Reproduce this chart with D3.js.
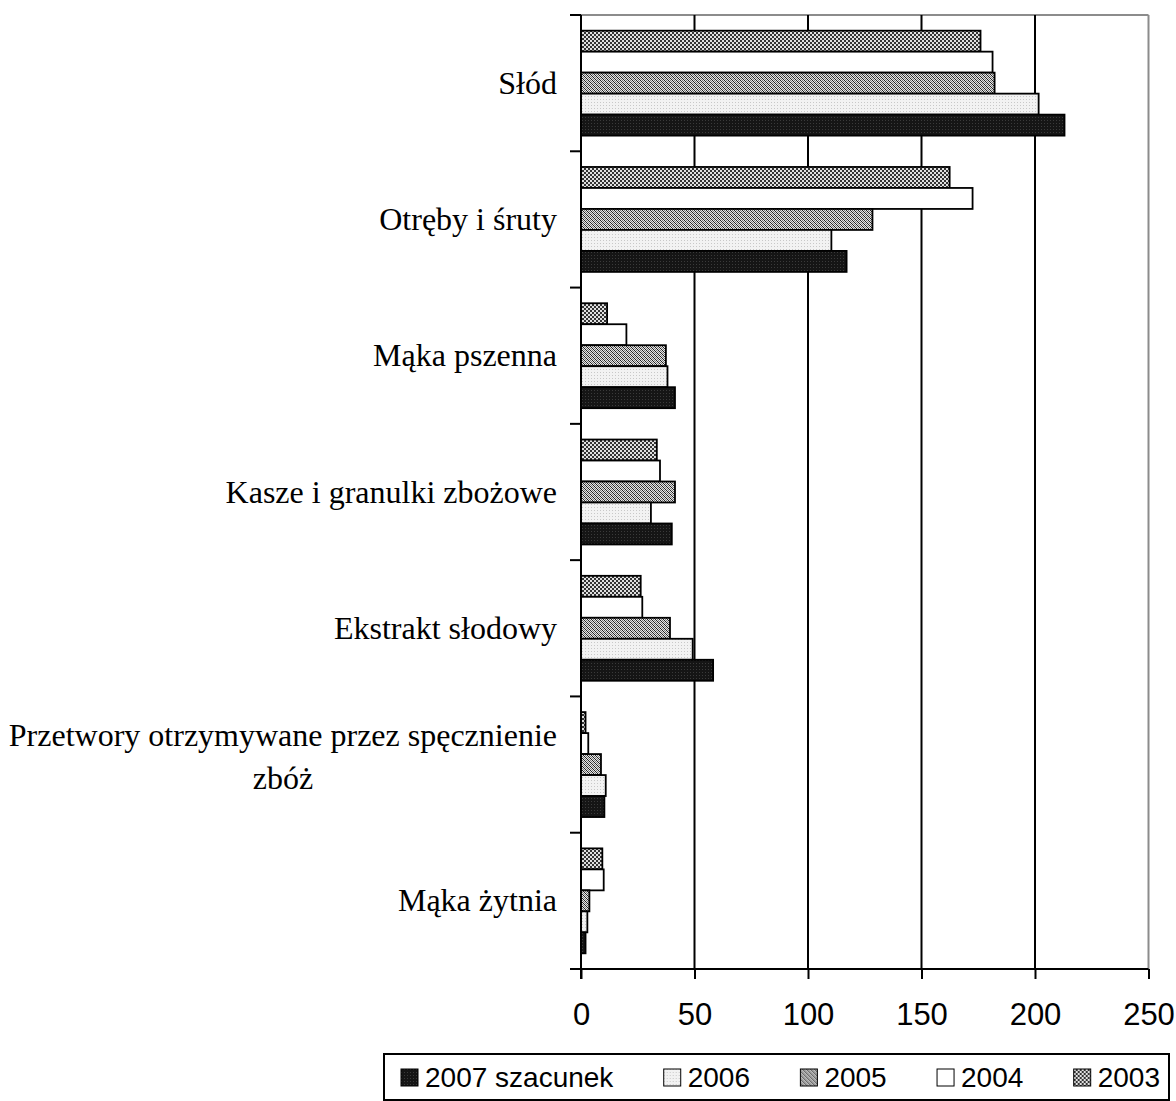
<!DOCTYPE html>
<html><head><meta charset="utf-8">
<script src="https://cdn.jsdelivr.net/npm/d3@7"></script>
<style>body{margin:0;background:#fff}svg{display:block}</style>
</head><body>
<svg id="c" width="1176" height="1101"></svg>
<script>
const categories = ["Słód","Otręby i śruty","Mąka pszenna","Kasze i granulki zbożowe","Ekstrakt słodowy","Przetwory otrzymywane przez spęcznienie\nzbóż","Mąka żytnia"];
const years = ["2003","2004","2005","2006","2007"];
const v2003 = [176,162.4,11.5,33.4,26.3,2,9.4];
const v2004 = [181.3,172.5,20,34.8,27,3.2,10];
const v2005 = [182.2,128.4,37.4,41.4,39.2,8.8,3.7];
const v2006 = [201.6,110.3,38.1,30.8,49.2,10.9,2.8];
const v2007 = [213,117,41.4,40,58.2,10.3,2];
const legendLabels = ["2007 szacunek","2006","2005","2004","2003"];
const legendYears = ["2007","2006","2005","2004","2003"];
const xTicks = [0,50,100,150,200,250];

const series = {"2003":v2003,"2004":v2004,"2005":v2005,"2006":v2006,"2007":v2007};

const svg = d3.select("#c");
const defs = svg.append("defs");
function pat(id, w, h, bg, cells){
  const p = defs.append("pattern").attr("id",id).attr("patternUnits","userSpaceOnUse").attr("width",w).attr("height",h);
  p.append("rect").attr("width",w).attr("height",h).attr("fill",bg);
  cells.forEach(c=>p.append("rect").attr("x",c[0]).attr("y",c[1]).attr("width",c[2]).attr("height",c[3]).attr("fill",c[4]));
}
pat("p2007",3,3,"#151515",[[0,0,1,1,"#3a3a3a"]]);
pat("p2006",3,3,"#f2f2f2",[[0,0,1,1,"#c8c8c8"]]);
pat("p2005",4,4,"#e6e6e6",[[0,0,1,1,"#222"],[1,1,1,1,"#222"],[2,2,1,1,"#222"],[3,3,1,1,"#222"],[2,0,1,1,"#777"],[3,1,1,1,"#777"],[0,2,1,1,"#777"],[1,3,1,1,"#777"]]);
pat("p2003",4,4,"#e0e0e0",[[0,0,2,2,"#333"],[2,2,2,2,"#333"]]);
const fills = {"2007":"url(#p2007)","2006":"url(#p2006)","2005":"url(#p2005)","2004":"#ffffff","2003":"url(#p2003)"};

const L = 581, R = 1148.5, T = 15, B = 969;
const x = d3.scaleLinear().domain([0,250]).range([L,R]);
const y0 = d3.scaleBand().domain(categories).range([T,B]).paddingInner(0.23).paddingOuter(0.115);
const y1 = d3.scaleBand().domain(years).range([0,y0.bandwidth()]);
const yb = d3.scaleBand().domain(categories).range([T,B]);

// plot border (gray top/right)
svg.append("line").attr("x1",L).attr("x2",R).attr("y1",T).attr("y2",T).attr("stroke","#8c8c8c").attr("stroke-width",2);
svg.append("line").attr("x1",R).attr("x2",R).attr("y1",T).attr("y2",B).attr("stroke","#8c8c8c").attr("stroke-width",2);

// gridlines
svg.append("g").selectAll("line").data(xTicks.filter(t=>t>0&&t<250)).join("line")
  .attr("x1",d=>x(d)).attr("x2",d=>x(d)).attr("y1",T).attr("y2",B)
  .attr("stroke","#000").attr("stroke-width",2);

// bars
const g = svg.append("g");
categories.forEach((c,i)=>{
  years.forEach(yr=>{
    g.append("rect")
      .attr("x",x(0)).attr("y",y0(c)+y1(yr))
      .attr("width",x(series[yr][i])-x(0)).attr("height",y1.bandwidth())
      .attr("fill",fills[yr]).attr("stroke","#000").attr("stroke-width",1.8);
  });
});

// y axis
svg.append("line").attr("x1",L).attr("x2",L).attr("y1",T).attr("y2",B+10).attr("stroke","#000").attr("stroke-width",2);
const bounds = categories.map(c=>yb(c)).concat([B]);
svg.append("g").selectAll("line").data(bounds).join("line")
  .attr("x1",L-11).attr("x2",L).attr("y1",d=>d).attr("y2",d=>d).attr("stroke","#000").attr("stroke-width",2);

// x axis
const xa = d3.axisBottom(x).tickValues(xTicks).tickSize(10).tickPadding(20);
const xg = svg.append("g").attr("transform",`translate(0,${B})`).call(xa);
xg.select(".domain").remove();
xg.selectAll(".tick line").attr("stroke","#000").attr("stroke-width",2);
xg.selectAll(".tick text").attr("font-family","Liberation Sans, Arial, sans-serif").attr("font-size",31).attr("fill","#000").attr("dy",null).attr("y",56);
svg.append("line").attr("x1",L-10).attr("x2",R).attr("y1",B).attr("y2",B).attr("stroke","#000").attr("stroke-width",2);

// category labels
const lab = svg.append("g").attr("font-family","Liberation Serif, Times New Roman, serif").attr("font-size",32).attr("fill","#000");
categories.forEach(c=>{
  const lines = c.split("\n");
  const cy = yb(c) + yb.bandwidth()/2;
  if(lines.length===1){
    lab.append("text").attr("x",557).attr("y",cy+10.5).attr("text-anchor","end").text(lines[0]);
  } else {
    const ts = lines.map((ln,k)=>lab.append("text").attr("y",cy-18.5+k*42.5).attr("text-anchor","middle").text(ln));
    const mw = d3.max(ts,t=>t.node().getComputedTextLength());
    ts.forEach(t=>t.attr("x",557-mw/2));
  }
});

// legend
const lg = svg.append("g");
lg.append("rect").attr("x",384).attr("y",1054).attr("width",785).attr("height",46).attr("fill","#fff").attr("stroke","#000").attr("stroke-width",2);
const items = legendLabels.map((t,i)=>{
  const gi = lg.append("g");
  gi.append("rect").attr("x",0).attr("y",-18).attr("width",17).attr("height",17).attr("fill",fills[legendYears[i]]).attr("stroke","#000").attr("stroke-width",1);
  const tx = gi.append("text").attr("x",24).attr("y",0).attr("font-family","Liberation Sans, Arial, sans-serif").attr("font-size",28).attr("fill","#000").text(t);
  return {gi, w: 24 + tx.node().getComputedTextLength()};
});
const startX = 401, endX = 1160;
const total = d3.sum(items,d=>d.w);
const gap = (endX-startX-total)/(items.length-1);
let cx = startX;
items.forEach(it=>{ it.gi.attr("transform",`translate(${cx},1087)`); cx += it.w + gap; });
</script>
</body></html>
